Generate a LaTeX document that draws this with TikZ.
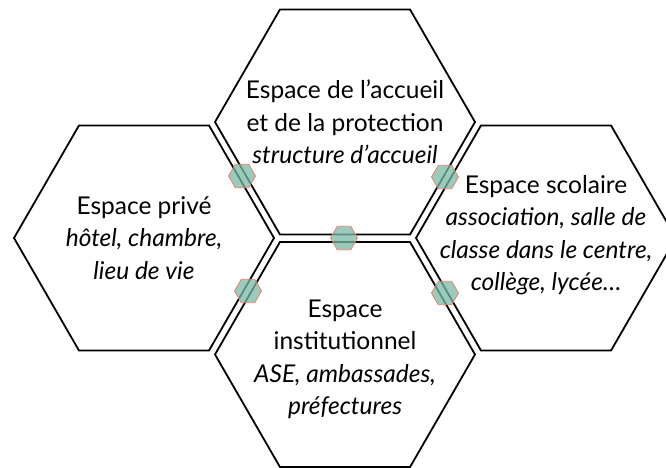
\documentclass[tikz,border=0pt]{standalone}
\usepackage{fontspec}
\setmainfont{Lato}
\usetikzlibrary{shapes.geometric}
\definecolor{jointfill}{RGB}{122,186,166}
\definecolor{jointline}{RGB}{236,128,108}
\tikzset{
  hexa/.style={regular polygon,regular polygon sides=6,minimum size=260pt,inner sep=0pt,draw=black,line width=1.8pt},
  joint/.style={regular polygon,regular polygon sides=6,minimum size=27pt,inner sep=0pt,draw=jointline,line width=0.8pt,fill=jointfill,fill opacity=0.75},
  txt/.style={align=center,inner sep=0pt,font=\fontsize{24.5}{32.5}\selectfont}
}
\begin{document}
\begin{tikzpicture}[x=1pt,y=-1pt]
\clip(0,0) rectangle (666,468);
% the four spaces
\node[hexa](accueil) at (345,122){};
\node[hexa](prive) at (144,238){};
\node[hexa](scolaire) at (546,238){};
\node[hexa](institution) at (345,354.5){};
%
\node[txt](taccueil) at (accueil){Espace de l'accueil\\et de la protection\\\textit{structure d'accueil}};
\node[txt](tprive) at (prive){Espace privé\\\textit{hôtel, chambre,}\\\textit{lieu de vie}};
\node[txt](tscolaire) at ([yshift=3]scolaire){Espace scolaire\\\textit{association, salle de}\\\textit{classe dans le centre,}\\\textit{collège, lycée…}};
\node[txt](tinstitution) at ([yshift=-5]institution){Espace\\institutionnel\\\textit{ASE, ambassades,}\\\textit{préfectures}};
% joints between the spaces
\node[joint](j1) at (242,176){};
\node[joint](j2) at (445,177){};
\node[joint](j3) at (344,238){};
\node[joint](j4) at (248,291){};
\node[joint](j5) at (445,293){};
\end{tikzpicture}
\end{document}
